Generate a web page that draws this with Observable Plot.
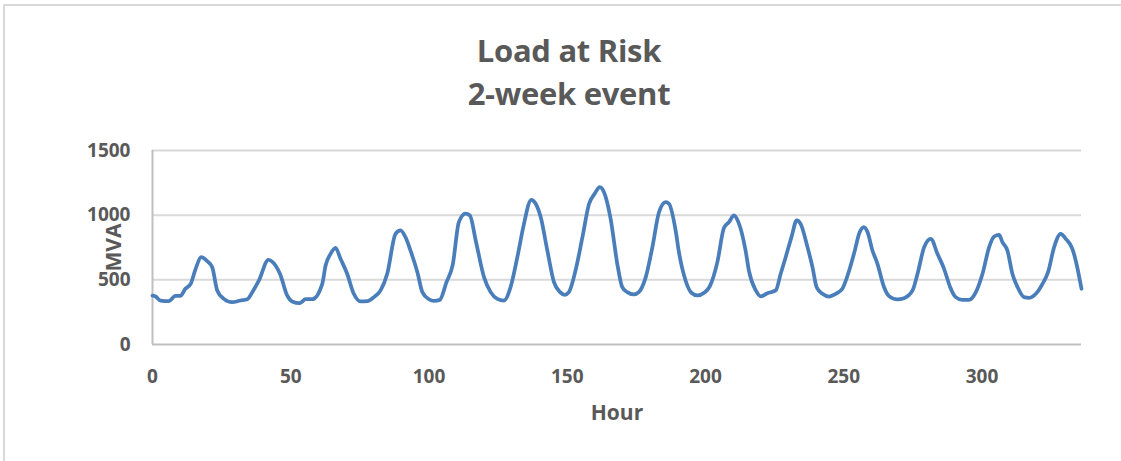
<!DOCTYPE html>
<html>
<head>
<meta charset="utf-8">
<script src="https://cdn.jsdelivr.net/npm/d3@7"></script>
<script src="https://cdn.jsdelivr.net/npm/@observablehq/plot@0.6"></script>
<style>
  html, body { margin: 0; padding: 0; background: #fff; }
  body { width: 1121px; height: 461px; position: relative; overflow: hidden; font-family: "Open Sans", sans-serif; }
  #border { position: absolute; left: 3px; top: 4px; width: 1300px; height: 600px; border-left: 2px solid #d9d9d9; border-top: 2px solid #d9d9d9; }
  .title { position: absolute; left: 0; width: 1138px; text-align: center; color: #595959; font-weight: 700; font-size: 31px; line-height: 40px; letter-spacing: -0.3px; }
  #t1 { top: 30px; }
  #t2 { top: 73px; }
  #chart { position: absolute; left: 0; top: 130px; }
</style>
</head>
<body>
<div id="border"></div>
<div class="title" id="t1">Load at Risk</div>
<div class="title" id="t2">2-week event</div>
<div id="chart"></div>
<script>
const hours = [0, 1.1, 2.9, 5.9, 8.3, 10.1, 11.9, 13.8, 15.6, 17.6, 19.8, 21.6, 23.4, 25.8, 28.8, 31.8, 34.3, 36.3, 38.5, 41.9,
  44.5, 46.1, 48.7, 50.5, 53.3, 55.4, 57.8, 61.4, 62.6, 64.4, 66.2, 68.0, 70.4, 72.8, 75.3, 77.7, 80.1, 82.5, 84.9, 87.9,
  89.7, 91.5, 93.3, 95.8, 97.6, 100.0, 101.8, 103.9, 106.3, 108.6, 110.8, 113.2, 114.8, 116.9, 119.9, 122.3, 124.7, 127.1, 129.5, 132.2,
  134.1, 137.0, 138.6, 140.4, 142.8, 145.2, 147.4, 149.1, 150.6, 153.0, 155.5, 157.9, 159.9, 161.8, 163.3, 165.7, 168.1, 169.9, 171.7, 174.1,
  175.9, 178.4, 180.8, 183.2, 185.6, 186.8, 189.2, 190.4, 192.8, 194.9, 197.1, 199.5, 201.6, 204.3, 206.7, 208.5, 210.3, 211.9, 214.5, 215.7,
  218.2, 220.0, 222.4, 225.4, 227.2, 229.0, 231.1, 233.0, 234.4, 236.9, 238.7, 240.2, 242.3, 244.7, 247.1, 249.5, 251.6, 253.7, 255.8, 257.3,
  258.6, 260.4, 262.2, 264.6, 266.4, 269.4, 271.8, 274.9, 276.7, 279.1, 281.5, 283.9, 286.3, 288.5, 290.5, 292.9, 295.3, 297.8, 300.2, 302.6,
  304.4, 306.2, 307.4, 309.2, 311.0, 312.9, 315.2, 317.1, 319.5, 321.9, 323.9, 326.1, 328.5, 330.3, 332.7, 333.9, 336.0];
const mva = [378, 371, 340, 335, 376, 376, 431, 469, 585, 675, 644, 598, 418, 353, 327, 340, 350, 412, 495, 655,
  611, 547, 379, 333, 320, 350, 350, 469, 611, 701, 748, 663, 547, 392, 333, 335, 366, 418, 547, 856,
  882, 830, 727, 559, 405, 350, 337, 345, 480, 618, 945, 1011, 998, 804, 521, 405, 353, 340, 443, 701,
  907, 1119, 1088, 985, 727, 482, 405, 384, 405, 572, 830, 1088, 1165, 1217, 1178, 972, 624, 443, 405, 387,
  405, 521, 753, 1023, 1101, 1088, 882, 714, 495, 400, 379, 400, 451, 637, 902, 946, 998, 946, 727, 572,
  418, 372, 397, 418, 547, 675, 830, 959, 933, 753, 598, 443, 392, 371, 392, 431, 547, 701, 869, 907,
  869, 727, 624, 443, 374, 348, 358, 418, 547, 753, 817, 701, 585, 443, 366, 345, 345, 405, 547, 753,
  835, 848, 791, 727, 547, 443, 366, 361, 392, 469, 559, 753, 856, 817, 740, 650, 431];
const xTicks = [0, 50, 100, 150, 200, 250, 300];
const yTicks = [0, 500, 1000, 1500];
const xLabel = "Hour";
const yLabel = "MVA";

const data = hours.map((h, i) => ({hour: h, mva: mva[i]}));

const chart = Plot.plot({
  width: 1121,
  height: 331,
  marginLeft: 152,
  marginRight: 40,
  marginTop: 20,
  marginBottom: 117,
  style: {fontFamily: "Open Sans", fontSize: "19px", fontWeight: 700, color: "#595959", background: "transparent"},
  x: {domain: [0, 336], ticks: xTicks, tickFormat: d3.format("d"), label: null, tickSize: 0, tickPadding: 25},
  y: {domain: [0, 1500], ticks: yTicks, tickFormat: d3.format("d"), label: null, tickSize: 0, tickPadding: 22},
  marks: [
    Plot.gridY(yTicks.filter(d => d > 0), {stroke: "#d9d9d9", strokeOpacity: 1, strokeWidth: 2}),
    Plot.ruleY([0], {stroke: "#bfbfbf", strokeWidth: 2}),
    Plot.ruleX([0], {stroke: "#bfbfbf", strokeWidth: 2}),
    Plot.line(data, {x: "hour", y: "mva", stroke: "#4a7ebb", strokeWidth: 3.75, curve: "monotone-x"}),
    Plot.text([yLabel], {frameAnchor: "left", dx: -38, rotate: -90, textAnchor: "middle", lineAnchor: "middle", fontSize: 21, fontWeight: 700, fill: "#595959"}),
    Plot.text([xLabel], {frameAnchor: "bottom", dy: 69, textAnchor: "middle", lineAnchor: "middle", fontSize: 21, fontWeight: 700, fill: "#595959"})
  ]
});
document.getElementById("chart").appendChild(chart);
</script>
</body>
</html>
